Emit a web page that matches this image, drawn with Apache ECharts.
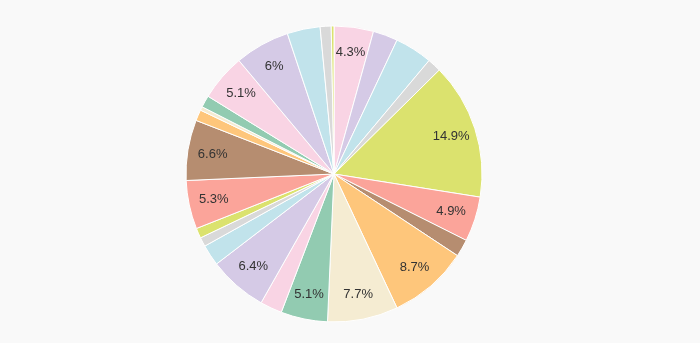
<!DOCTYPE html>
<html>
<head>
<meta charset="utf-8">
<script src="https://cdn.jsdelivr.net/npm/echarts@6/dist/echarts.min.js"></script>
<style>
  html, body { margin: 0; padding: 0; background: #f9f9f9; }
  #chart { width: 700px; height: 343px; }
</style>
</head>
<body>
<div id="chart"></div>
<script>
// Slice names and shares (percent of total), clockwise from 12 o'clock
const categories = [
  'A1', 'A2', 'A3', 'A4', 'A5', 'A6', 'A7', 'A8', 'A9', 'A10',
  'B1', 'B2', 'B3', 'B4', 'B5', 'B6', 'B7', 'B8', 'B9', 'B10',
  'C1', 'C2', 'C3', 'C4', 'C5'
];
const values = [
  4.3, 2.7, 4.1, 1.5, 14.9, 4.9, 1.9, 8.7, 7.7, 5.1,
  2.4, 6.4, 2.3, 1.0, 1.1, 5.3, 6.6, 1.2, 0.4, 1.3,
  5.1, 6.0, 3.6, 1.2, 0.3
];
// Pastel palette, cycled across the slices
const palette = [
  '#f9d4e4', '#d5cae6', '#c1e3eb', '#d9d9d9', '#dbe26e',
  '#fba49a', '#b68d70', '#fec67b', '#f5ecd2', '#92cbb1'
];

const cx = 334, cy = 174, radius = 148, labelRadius = 123;
const minLabelPercent = 4.2;

const total = values.reduce((a, b) => a + b, 0);
const midAngles = [];
let acc = 0;
values.forEach(v => {
  midAngles.push((acc + v / 2) / total * Math.PI * 2);
  acc += v;
});

const chart = echarts.init(document.getElementById('chart'));
chart.setOption({
  backgroundColor: '#f9f9f9',
  animation: false,
  color: palette,
  series: [{
    type: 'pie',
    center: [cx, cy],
    radius: [0, radius],
    startAngle: 90,
    clockwise: true,
    percentPrecision: 1,
    avoidLabelOverlap: false,
    itemStyle: { borderColor: '#ffffff', borderWidth: 1 },
    label: {
      show: true,
      position: 'inside',
      color: '#333333',
      fontSize: 13,
      fontFamily: 'Liberation Sans, Arial, sans-serif',
      formatter: p => p.percent >= minLabelPercent ? (+p.percent.toFixed(1)) + '%' : ''
    },
    labelLine: { show: false },
    labelLayout: p => {
      const a = midAngles[p.dataIndex];
      return {
        x: cx + labelRadius * Math.sin(a),
        y: cy - labelRadius * Math.cos(a),
        align: 'center',
        verticalAlign: 'middle'
      };
    },
    emphasis: { disabled: true },
    data: categories.map((name, i) => ({ name, value: values[i] }))
  }]
});
</script>
</body>
</html>
